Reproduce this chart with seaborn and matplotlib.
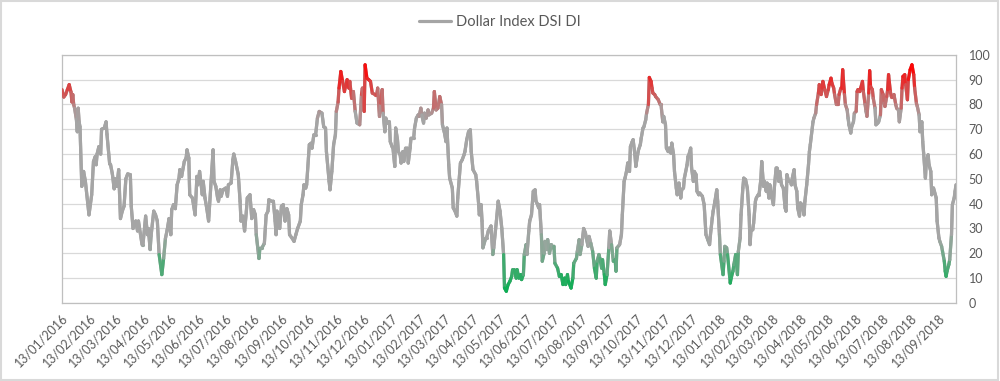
import numpy as np
import pandas as pd
import matplotlib
import matplotlib.pyplot as plt
import matplotlib.dates as mdates
from matplotlib.collections import LineCollection
from matplotlib.colors import LinearSegmentedColormap
from matplotlib.patches import Rectangle
import seaborn as sns

matplotlib.use('Agg')

# days since 13/01/2016 and the DSI reading on that day
days = [
    # 2016
    0, 2, 4, 6, 8, 10, 11, 12, 13, 14, 16, 17, 18, 19, 20, 22, 24, 26, 30, 33,
    35, 37, 38, 39, 41, 43, 44, 47, 49, 50, 53, 54, 56, 58, 59, 61, 63, 65, 67, 69,
    71, 73, 76, 77, 79, 82, 84, 85, 89, 90, 93, 95, 96, 98, 99, 102, 104, 106, 108, 111,
    113, 115, 117, 119, 121, 122, 124, 126, 128, 130, 131, 133, 136, 138, 139, 141, 142, 145, 148, 150,
    151, 153, 156, 157, 159, 161, 163,
    168, 169, 171, 173, 174, 176, 177, 179, 182, 184, 185, 188, 190, 191, 193, 196, 198, 199, 201, 203,
    205, 206, 209, 211, 213, 215, 216, 219, 220, 222, 225, 227, 229, 230, 233, 235, 237, 238, 239, 241,
    242, 244, 246, 248, 250, 252, 253, 256, 258, 260, 262, 265, 266, 268, 269, 271, 272, 274, 275, 277,
    278, 280, 282, 284, 286, 289, 291, 293, 294, 297, 298, 300, 302, 304, 305, 307, 308, 310, 312, 314,
    317, 319, 320, 322, 324, 326, 328,
    # 2017
    331, 333, 334, 336, 337, 339, 341, 343, 345, 348, 350, 351, 353, 354, 356, 357, 359, 360, 362, 364,
    365, 367, 368, 370, 371, 373, 374, 376, 377, 379, 380, 382, 384, 385, 387, 388, 391, 392, 394, 396,
    397, 399, 400, 402, 403, 405, 407, 408, 411, 413, 414, 416, 418, 420, 422, 423, 425, 427, 428, 430,
    431, 434, 435, 437, 439, 440, 443, 445, 447, 448, 450, 452, 454, 455, 457, 460, 461, 463, 464, 466,
    467, 468, 471, 472, 474, 477, 479, 480, 483, 485, 487, 489, 491, 492, 494, 496,
    498, 500, 501, 503, 505, 506, 508, 510, 511, 513, 514, 516, 517, 519, 520, 522, 524, 526, 527, 528,
    530, 531, 533, 534, 536, 537, 539, 540, 542, 544, 546, 547, 548, 551, 553, 555, 557, 559, 560, 562,
    563, 566, 568, 569, 572, 573, 575, 576, 578, 580, 582, 583, 585, 586, 588, 590, 592, 594, 595, 597,
    598, 600, 601, 603, 604, 606, 608, 609, 611, 613, 615, 616, 617, 620, 622, 623, 625, 626, 628, 629,
    631, 632, 634, 635, 637, 638, 640, 641, 643, 644, 646, 647, 649, 650, 652, 653, 655, 656, 657, 659,
    660, 663, 665,
    666, 668, 669, 671, 672, 674, 675, 677, 678, 680, 681, 683, 684, 686, 688, 689, 691, 692, 695, 696,
    697, 699, 700, 702, 703, 705, 706, 708, 709, 712, 714, 716, 718, 720, 721, 723, 724, 726, 728, 729,
    # 2018
    731, 732, 735, 736, 737, 739, 740, 743, 744, 746, 747, 749, 751, 752, 754, 755, 757, 758, 760, 762,
    764, 765, 766, 768, 769, 771, 772, 774, 775, 777, 778, 780, 781, 783, 784, 786, 787, 789, 791, 792,
    794, 795, 797, 798, 800, 802, 804, 805, 806, 808, 810, 811, 812, 814, 815, 817, 818, 820, 821, 823,
    825, 826, 828, 830, 831, 832,
    835, 836, 838, 839, 841, 842, 844, 845, 846, 848, 850, 852, 853, 855, 856, 858, 859, 861, 863, 864,
    866, 867, 868, 870, 871, 873, 874, 875, 877, 878, 880, 881, 883, 884, 885, 887, 888, 890, 891, 893,
    894, 895, 897, 898, 899, 901, 902, 904, 905, 907, 908, 910, 911, 913, 914, 915, 917, 918, 919, 921,
    922, 924, 925, 927, 928, 930, 931, 933, 934, 935, 937, 938, 940, 941, 943, 945, 947, 948, 950, 951,
    953, 954, 956, 957, 958, 960, 961, 963, 964, 966, 967, 969, 970, 972, 973, 975, 976, 978, 979, 981,
    982, 983, 984, 986, 987, 989, 990, 992, 993, 994,
]

dsi = [
    86, 83, 84, 86, 88, 85, 81, 84, 80, 78.5, 74, 69, 78.5, 73, 71, 47, 53, 49, 35.5, 43.6,
    57, 59, 55.7, 60, 63, 60, 70, 70.5, 73, 68, 56, 55.7, 52, 46, 50, 47, 53.7, 34, 37, 39,
    50, 52, 51.7, 39, 30, 33, 29, 33, 23.5, 23.5, 35, 27.5, 30, 21.5, 27, 37, 35.5, 33, 19.5, 11.4,
    18, 26, 29.5, 34, 27.5, 37.6, 39.6, 38, 47.6, 50, 53.7, 51, 57, 58.4, 61.7, 58.4, 43.6, 42.3, 35.5, 51,
    47.6, 53, 43.6, 49, 42.3, 38, 33,
    61.7, 49, 47, 42.3, 41, 45.6, 43, 45.6, 46.3, 43, 47.6, 48.3, 57.7, 60, 57, 51.7, 41, 33, 35, 29,
    37, 42.3, 43.6, 34, 37.6, 35.5, 27.5, 17.9, 22, 22, 24, 35.5, 37, 41.6, 41, 41, 33, 27.5, 37, 34,
    30, 39, 39.6, 33, 38, 35.5, 27.5, 26, 24.8, 27.5, 30, 33, 39.6, 43.6, 47.6, 46.3, 47.6, 58.4, 63.8, 64.4,
    62.4, 67.8, 67.8, 74.5, 77.2, 76.5, 71, 70.5, 61, 49, 45.6, 53, 63.8, 67.8, 77.2, 81, 86.6, 93.3, 89.3, 85.2,
    90, 86.6, 89.3, 82.5, 85.2, 77.2, 72.5,
    71.8, 84, 86.6, 77.2, 96, 90.6, 90, 89.3, 84.6, 84, 84, 86.6, 75.2, 80.5, 86, 76.5, 69, 74.5, 72.5, 73,
    65, 63, 62.4, 55, 70.5, 65.8, 61, 59.7, 56.4, 61, 57, 62.4, 62.4, 56.4, 62.4, 66.4, 66.4, 70.5, 74.5, 75.8,
    75.2, 78.5, 75.8, 72.5, 76.5, 74.5, 77.8, 75.8, 76.5, 78.5, 85.2, 77.8, 78.5, 83.2, 80, 71.8, 69, 65, 70.5, 55.7,
    50.3, 46.3, 38.3, 37, 35, 42.3, 56.4, 57.7, 59.7, 61, 65.8, 69, 69.8, 61, 53.7, 51.7, 49, 41, 35.5, 39.6,
    33, 22.2, 26, 26, 29, 31, 19.5, 22.2, 33, 41, 37, 30, 19.5, 6, 4.7, 7.4,
    8.7, 10.7, 13.4, 13.4, 10, 13.4, 10, 11.4, 9.4, 11.4, 19.5, 23.5, 19.5, 29, 33, 35.5, 45, 45.6, 41, 40.3,
    38.3, 39.6, 27.5, 16.8, 20, 24.8, 21.5, 25.5, 20, 23.5, 22.2, 22.8, 16, 14, 10.7, 11.4, 7.4, 10, 7.4, 11.4,
    8.7, 6, 10, 16, 18, 20.8, 25.5, 19.5, 23.5, 30, 28.2, 26, 22.8, 26.8, 24, 20.8, 14, 10, 16.8, 19.5,
    18, 14, 17.4, 11.4, 7.4, 11.4, 22.2, 29, 23.5, 16.8, 17.4, 12.8, 22.2, 23.5, 27.5, 35.5, 49, 50.3, 53.7, 56.4,
    53, 63, 65, 65.8, 59.7, 55, 59.7, 61.7, 63.8, 66.4, 70.5, 71, 73.8, 76.5, 80, 90.9, 89.3, 86.6, 84.6, 84,
    83.2, 81.9, 80,
    80, 73, 75.2, 71.8, 62.4, 61, 62.4, 60.4, 64.4, 59.7, 53, 46.3, 43.6, 48.3, 42.3, 45.6, 46.3, 50.3, 55.7, 59,
    59.7, 62.4, 54.4, 49, 53, 51.7, 45, 43.6, 44.3, 43, 39.6, 27.5, 25.5, 23.5, 27.5, 34.2, 37, 41, 45.6, 41,
    27.5, 19.5, 11.4, 16.8, 22.8, 22.2, 19.5, 8, 10, 12.8, 15.4, 19.5, 11.4, 20.8, 26.2, 35.5, 46.3, 50.3, 49.7, 46.3,
    35.5, 23.5, 29, 29.5, 32.2, 41, 42.3, 43.6, 43.6, 49.7, 57, 47, 49, 45, 48.3, 42.3, 47.6, 43, 39.6, 46.3,
    54.4, 54.4, 49, 53, 47.6, 46.3, 38.3, 37, 51.7, 49, 49, 47.6, 50.3, 53.7, 47.6, 45, 38.3, 35, 40.3, 39.6,
    35.5, 41, 47.6, 55.7, 61, 63.8,
    73, 74.5, 76.5, 80, 84.6, 88, 84, 86.6, 89.3, 86, 83.2, 86, 88, 90.6, 88.6, 86.6, 84, 80, 80, 84,
    86.6, 86.6, 94, 84, 80, 77.8, 74.5, 71.8, 68.5, 71, 73, 76.5, 77.2, 85.2, 86, 85.2, 86.6, 89.3, 85.2, 80,
    77.2, 75.2, 84.6, 93.6, 87.2, 86, 82.5, 78.5, 71.8, 72.5, 73, 75.8, 86, 84, 80.5, 79.2, 83.2, 86, 92, 85.2,
    83.2, 83.2, 84, 80, 78.5, 77.8, 73, 78.5, 86.6, 91.3, 92, 88, 81.9, 90, 94, 96, 92, 86.6, 80.5, 79.2,
    75.8, 69, 73, 65, 60.4, 50.3, 57, 59.7, 55.7, 53, 43.6, 46.3, 45, 42.3, 33, 26.2, 24.8, 22.8, 20.8, 16.8,
    12.8, 10.7, 12.8, 15.4, 17.4, 27.5, 39.6, 42.3, 45, 47.6,
]

assert len(days) == len(dsi), (len(days), len(dsi))

start = pd.Timestamp('2016-01-13')
dates = start + pd.to_timedelta(days, unit='D')
tick_dates = pd.date_range('2016-01-13', '2018-09-13', freq=pd.DateOffset(months=1))
series_name = 'Dollar Index DSI DI'

sns.set_theme(style='white')
plt.rcParams['font.family'] = ['Lato', 'DejaVu Sans']

fig, ax = plt.subplots(figsize=(10, 3.81), dpi=100)
fig.subplots_adjust(left=0.062, right=0.956, top=0.856, bottom=0.205)

grey = '#A5A5A5'
# base line (gives the legend entry)
sns.lineplot(x=dates, y=dsi, ax=ax, color=grey, lw=2.3, estimator=None,
             sort=False, label=series_name)

# gradient: green at the bottom, grey in the middle, red at the top
cmap = LinearSegmentedColormap.from_list('dsi', [
    (0.0, '#00B050'), (0.07, '#10AE55'), (0.25, grey),
    (0.75, grey), (0.95, '#FF0000'), (1.0, '#FF0000')])
xs = mdates.date2num(dates)
ys = np.array(dsi, dtype=float)
pts = np.column_stack([xs, ys]).reshape(-1, 1, 2)
segs = np.concatenate([pts[:-1], pts[1:]], axis=1)
mid = (ys[:-1] + ys[1:]) / 2
lc = LineCollection(segs, colors=cmap(mid / 100), linewidths=2.3,
                    capstyle='round', joinstyle='round', zorder=3)
ax.add_collection(lc)

ax.set_xlim(dates[0], dates[-1])
ax.set_ylim(0, 100)
ax.set_yticks(range(0, 101, 10))
ax.yaxis.tick_right()
ax.set_xticks(tick_dates)
ax.xaxis.set_major_formatter(mdates.DateFormatter('%d/%m/%Y'))
ax.set_xlabel('')
ax.set_ylabel('')

ax.grid(axis='y', color='#D9D9D9', lw=0.9)
ax.grid(axis='x', visible=False)
for s in ax.spines.values():
    s.set_color('#BFBFBF')
    s.set_linewidth(0.9)

ax.tick_params(axis='y', length=0, pad=9, labelsize=9, labelcolor='#595959')
ax.tick_params(axis='x', direction='out', length=4, width=0.9, color='#BFBFBF',
               pad=2, labelsize=9, labelcolor='#595959')
for lab in ax.get_xticklabels():
    lab.set_rotation(45)
    lab.set_ha('right')
    lab.set_rotation_mode('anchor')

ax.legend(loc='center', bbox_to_anchor=(0.5, 0.942), bbox_transform=fig.transFigure,
          frameon=False, fontsize=10.5, handlelength=2.2, handletextpad=0.3,
          labelcolor='#595959')

fig.patches.append(Rectangle((0.001, 0.002), 0.997, 0.995, transform=fig.transFigure,
                             fill=False, ec='#D9D9D9', lw=1.5))

plt.savefig('out.png', dpi=100)
